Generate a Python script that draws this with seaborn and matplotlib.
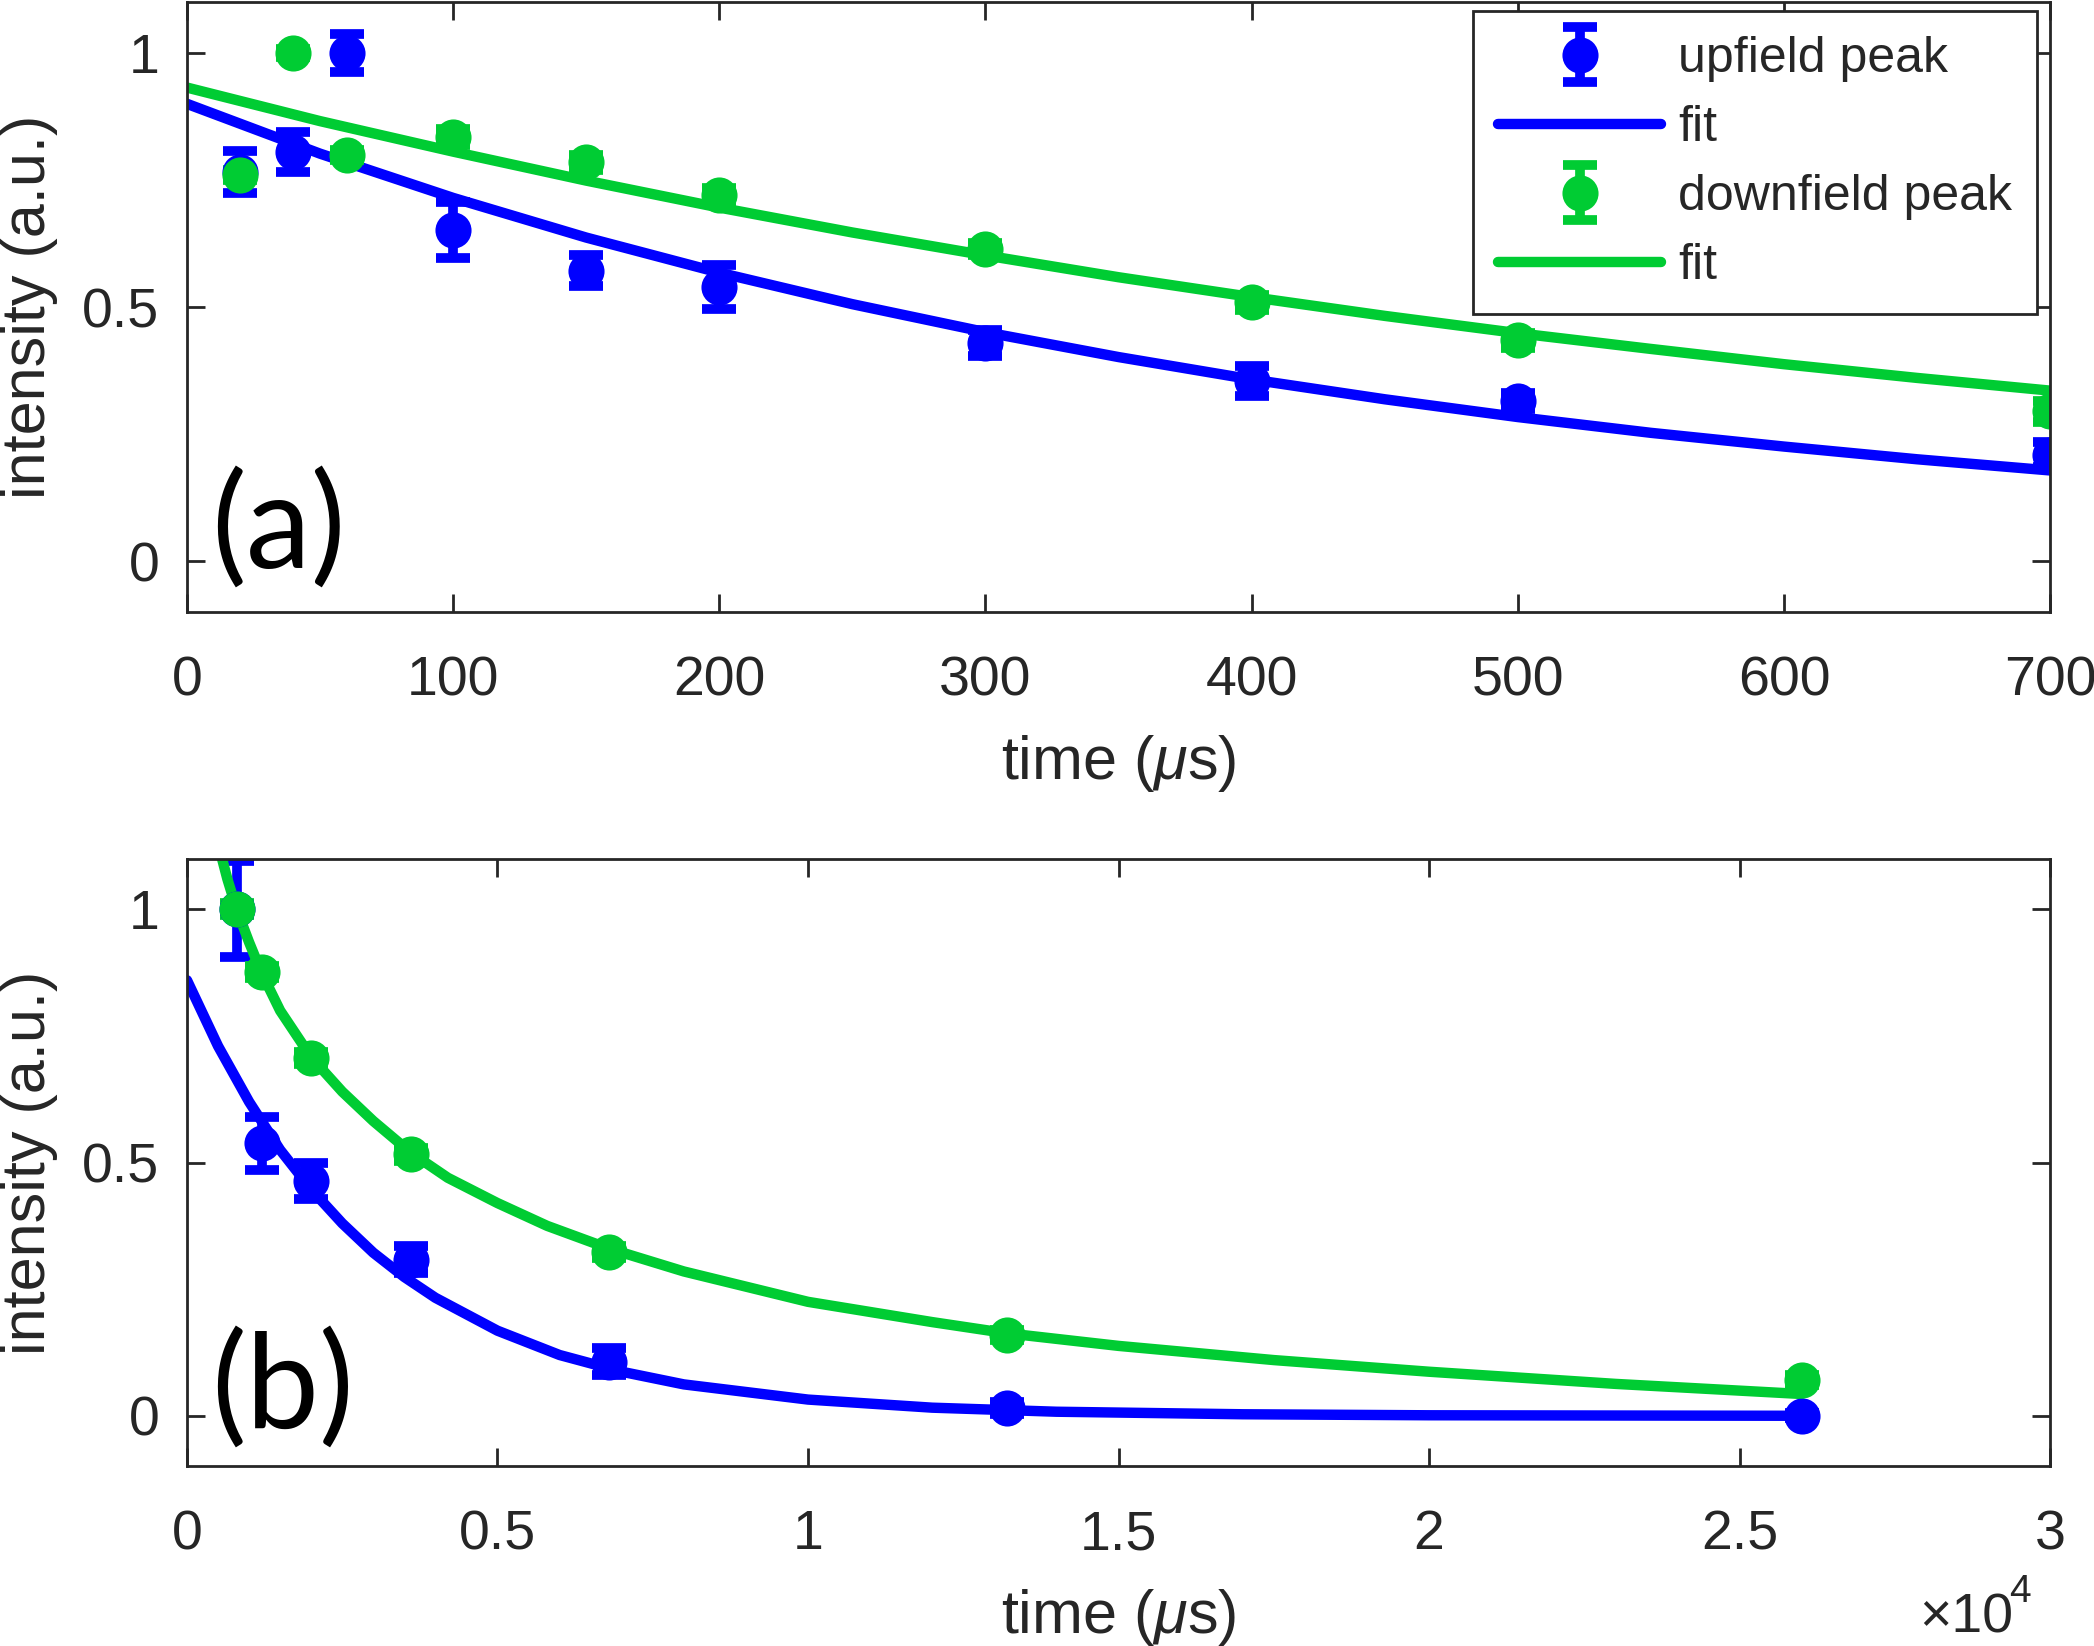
"""
Peak intensity decay of the upfield / downfield peaks vs. delay time,
short delays (a) and long delays (b)
"""

# %% Imports
import seaborn as sns
from matplotlib import pyplot as plt
from matplotlib.ticker import FixedLocator, FuncFormatter
from matplotlib.legend_handler import HandlerErrorbar

# %% Data
# (a) short delays, time in us
T_SHORT = [20, 40, 60, 100, 150, 200, 300, 400, 500, 700]
UP_SHORT = [0.766, 0.805, 1.0, 0.652, 0.572, 0.540, 0.430, 0.355, 0.315, 0.210]
UP_SHORT_ERR = [0.041, 0.039, 0.037, 0.055, 0.031, 0.043, 0.025, 0.030, 0.016, 0.025]
DOWN_SHORT = [0.760, 1.0, 0.800, 0.835, 0.785, 0.720, 0.615, 0.510, 0.435, 0.295]
DOWN_SHORT_ERR = [0.010, 0.008, 0.010, 0.015, 0.015, 0.015, 0.012, 0.015, 0.015, 0.020]

FIT_T_SHORT = [0, 50, 100, 150, 200, 250, 300, 350, 400, 450, 500, 550, 600, 650, 700]
UP_FIT_SHORT = [0.900, 0.802, 0.715, 0.637, 0.568, 0.506, 0.451, 0.402, 0.358, 0.319,
                0.284, 0.253, 0.226, 0.201, 0.179]
DOWN_FIT_SHORT = [0.932, 0.866, 0.806, 0.749, 0.696, 0.647, 0.602, 0.559, 0.520, 0.483,
                  0.449, 0.418, 0.388, 0.361, 0.336]

# (b) long delays, time in us
T_LONG = [800, 1200, 2000, 3600, 6800, 13200, 26000]
UP_LONG = [1.0, 0.538, 0.464, 0.308, 0.107, 0.015, 0.0]
UP_LONG_ERR = [0.095, 0.052, 0.035, 0.027, 0.027, 0.012, 0.005]
DOWN_LONG = [1.0, 0.876, 0.706, 0.516, 0.324, 0.160, 0.071]
DOWN_LONG_ERR = [0.012, 0.012, 0.012, 0.012, 0.012, 0.010, 0.010]

FIT_T_UP_LONG = [0, 500, 1000, 1500, 2000, 2500, 3000, 3500, 4000, 5000, 6000, 7000,
                 8000, 10000, 12000, 14000, 17000, 20000, 26000]
UP_FIT_LONG = [0.860, 0.730, 0.620, 0.525, 0.447, 0.380, 0.322, 0.274, 0.233, 0.168,
               0.120, 0.087, 0.062, 0.032, 0.016, 0.008, 0.003, 0.001, 0.0]
FIT_T_DOWN_LONG = [500, 650, 800, 1000, 1200, 1500, 2000, 2500, 3000, 3600, 4200, 5000,
                   5800, 6800, 8000, 10000, 12000, 13200, 15000, 17500, 20000, 23000, 26000]
DOWN_FIT_LONG = [1.130, 1.060, 1.000, 0.935, 0.875, 0.800, 0.708, 0.640, 0.582, 0.520,
                 0.470, 0.420, 0.375, 0.330, 0.285, 0.225, 0.185, 0.163, 0.138, 0.110,
                 0.087, 0.063, 0.043]

X_TICKS_SHORT = [0, 100, 200, 300, 400, 500, 600, 700]
X_TICKS_LONG = [0, 5000, 10000, 15000, 20000, 25000, 30000]
Y_TICKS = [0, 0.5, 1]

BLUE = "#0000FF"
GREEN = "#00CC33"
AX_COLOR = "#262626"

# %% Style
sns.set_theme(style="ticks")
plt.rcParams["font.family"] = ["Liberation Sans", "DejaVu Sans"]
plt.rcParams["mathtext.fontset"] = "custom"
plt.rcParams["mathtext.rm"] = "Liberation Sans"
plt.rcParams["mathtext.it"] = "Liberation Sans:italic"
plt.rcParams["lines.markeredgewidth"] = 0


# %% Functions
def plot_panel(ax, t, up, up_err, down, down_err, fit_t_up, up_fit, fit_t_down, down_fit):
    handles = []
    eb = ax.errorbar(t, up, yerr=up_err, fmt="o", color=BLUE, ms=26,
                     elinewidth=7, capsize=12.5, capthick=7, label="upfield peak")
    handles.append(eb)
    sns.lineplot(x=fit_t_up, y=up_fit, color=BLUE, linewidth=7.5, sort=False,
                 estimator=None, label="fit", ax=ax)
    handles.append(ax.lines[-1])
    eb = ax.errorbar(t, down, yerr=down_err, fmt="o", color=GREEN, ms=26,
                     elinewidth=7, capsize=12.5, capthick=7, label="downfield peak")
    handles.append(eb)
    sns.lineplot(x=fit_t_down, y=down_fit, color=GREEN, linewidth=7.5, sort=False,
                 estimator=None, label="fit", ax=ax)
    handles.append(ax.lines[-1])

    ax.set_ylim(-0.1, 1.1)
    ax.yaxis.set_major_locator(FixedLocator(Y_TICKS))
    ax.yaxis.set_major_formatter(FuncFormatter(lambda v, p: f"{v:g}"))
    ax.tick_params(direction="in", length=13, width=2, color=AX_COLOR, labelcolor=AX_COLOR,
                   labelsize=40, top=True, right=True)
    ax.tick_params(axis="x", pad=31)
    ax.tick_params(axis="y", pad=20)
    for spine in ax.spines.values():
        spine.set_visible(True)
        spine.set_linewidth(2)
        spine.set_color(AX_COLOR)
    ax.set_xlabel(r"time ($\mu$s)", fontsize=44, color=AX_COLOR)
    ax.set_ylabel("intensity (a.u.)", fontsize=44, color=AX_COLOR)
    ax.xaxis.set_label_coords(0.5, -0.198)
    ax.yaxis.set_label_coords(-0.069, 0.5)
    return handles


# %% Figure
fig = plt.figure(figsize=(20.94, 16.46), dpi=100)
ax_a = fig.add_axes([0.0893, 0.628, 0.8897, 0.3707])
ax_b = fig.add_axes([0.0893, 0.1091, 0.8897, 0.3692])

handles = plot_panel(ax_a, T_SHORT, UP_SHORT, UP_SHORT_ERR, DOWN_SHORT, DOWN_SHORT_ERR,
                     FIT_T_SHORT, UP_FIT_SHORT, FIT_T_SHORT, DOWN_FIT_SHORT)
ax_a.set_xlim(0, 700)
ax_a.xaxis.set_major_locator(FixedLocator(X_TICKS_SHORT))
ax_a.xaxis.set_major_formatter(FuncFormatter(lambda v, p: f"{v:g}"))
leg = ax_a.legend(handles, ["upfield peak", "fit", "downfield peak", "fit"],
                  loc="upper right", bbox_to_anchor=(0.993, 0.985), borderaxespad=0,
                  fontsize=36, handlelength=3.27, handletextpad=0.33, labelspacing=0.46,
                  borderpad=0.5, fancybox=False, framealpha=1,
                  handler_map={type(handles[0]): HandlerErrorbar(yerr_size=0.55)})
leg.get_frame().set_edgecolor(AX_COLOR)
leg.get_frame().set_linewidth(2)
ax_a.text(0.013, 0.136, "(a)", transform=ax_a.transAxes, fontsize=94, family="Lato",
          ha="left", va="center", color="black")

plot_panel(ax_b, T_LONG, UP_LONG, UP_LONG_ERR, DOWN_LONG, DOWN_LONG_ERR,
           FIT_T_UP_LONG, UP_FIT_LONG, FIT_T_DOWN_LONG, DOWN_FIT_LONG)
ax_b.get_legend().remove()
ax_b.set_xlim(0, 30000)
ax_b.xaxis.set_major_locator(FixedLocator(X_TICKS_LONG))
ax_b.xaxis.set_major_formatter(FuncFormatter(lambda v, p: f"{v / 1e4:g}"))
ax_b.text(0.013, 0.127, "(b)", transform=ax_b.transAxes, fontsize=94, family="Lato",
          ha="left", va="center", color="black")

# x10^4 multiplier under the right end of panel (b)
fig.text(0.9165, 0.001, "\u00d710", fontsize=40, ha="left", va="bottom", color=AX_COLOR)
fig.text(0.9595, 0.0268, "4", fontsize=28, ha="left", va="baseline", color=AX_COLOR)

fig.savefig("out.png", dpi=100)
